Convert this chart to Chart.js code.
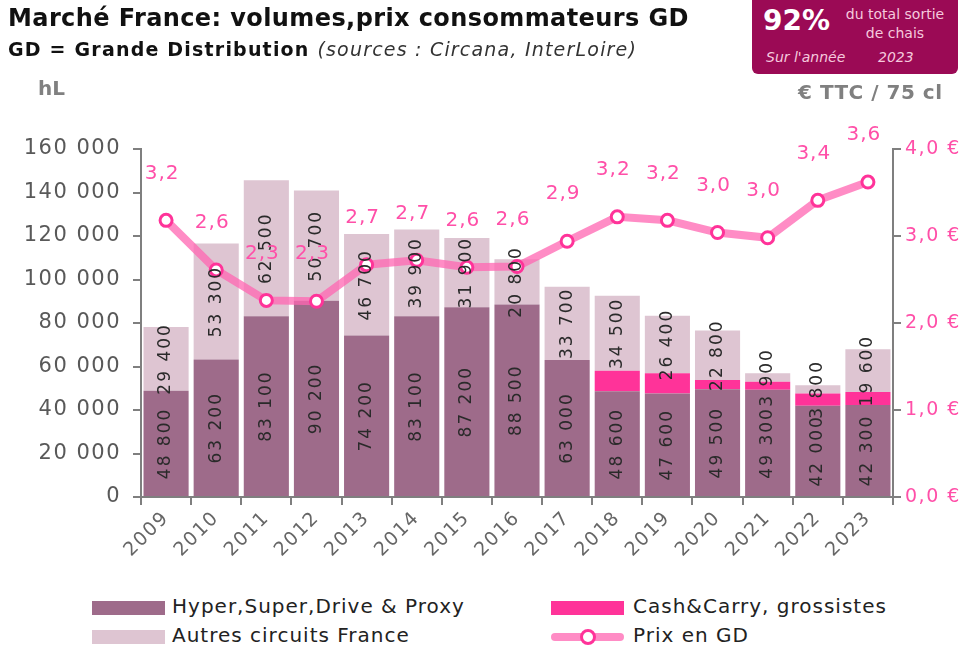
<!DOCTYPE html>
<html>
<head>
<meta charset="utf-8">
<script src="https://cdn.jsdelivr.net/npm/chart.js@4.4.1/dist/chart.umd.min.js"></script>
<style>
  body { margin: 0; background: #fff; font-family: "DejaVu Sans", sans-serif; }
  #page { position: relative; width: 965px; height: 649px; overflow: hidden; }
  #chart { position: absolute; left: 0; top: 0; }
  .t { position: absolute; white-space: nowrap; }
  .lg { position: absolute; font-size: 20px; letter-spacing: 1px; color: #222; white-space: nowrap; }
  .sw { position: absolute; width: 73px; height: 14px; }
</style>
</head>
<body>
<div id="page">
  <canvas id="chart" width="965" height="580"></canvas>

  <div class="t" style="left:8px;top:4px;font-size:24px;letter-spacing:0.4px;font-weight:bold;color:#111;">Marché France: volumes,prix consommateurs GD</div>
  <div class="t" style="left:8px;top:38px;font-size:19px;letter-spacing:1.2px;font-weight:bold;color:#111;">GD = Grande Distribution <span style="font-weight:normal;font-style:italic;color:#333;">(sources : Circana, InterLoire)</span></div>
  <div class="t" style="left:38px;top:76px;font-size:20px;font-weight:bold;color:#808080;">hL</div>
  <div class="t" style="left:798px;top:80px;font-size:20px;letter-spacing:0.5px;font-weight:bold;color:#808080;">€ TTC / 75 cl</div>

  <div style="position:absolute;left:752px;top:-6px;width:206px;height:80px;background:#9B0A55;border-radius:6px;"></div>
  <div class="t" style="left:763px;top:4px;font-size:28px;font-weight:bold;color:#fff;">92%</div>
  <div class="t" style="left:838px;top:5px;width:114px;text-align:center;font-size:14px;line-height:19px;color:#F5C9DD;">du total sortie<br>de chais</div>
  <div class="t" style="left:766px;top:49px;font-size:14px;font-style:italic;color:#F5C9DD;">Sur l'année</div>
  <div class="t" style="left:878px;top:49px;font-size:14px;font-style:italic;color:#F5C9DD;">2023</div>

  <div class="sw" style="left:92px;top:601px;background:#9E6B8A;"></div>
  <div class="lg" style="left:172px;top:594px;">Hyper,Super,Drive &amp; Proxy</div>
  <div class="sw" style="left:551px;top:601px;background:#FF3399;"></div>
  <div class="lg" style="left:633px;top:594px;">Cash&amp;Carry, grossistes</div>
  <div class="sw" style="left:92px;top:630px;background:#DEC5D2;"></div>
  <div class="lg" style="left:172px;top:623px;">Autres circuits France</div>
  <div style="position:absolute;left:551px;top:633px;width:73px;height:8px;border-radius:4px;background:rgba(255,102,178,0.75);"></div>
  <div style="position:absolute;left:580px;top:629px;width:10px;height:10px;border-radius:50%;background:#fff;border:3px solid #FF3399;"></div>
  <div class="lg" style="left:633px;top:623px;">Prix en GD</div>
</div>
<script>
var years = ['2009','2010','2011','2012','2013','2014','2015','2016','2017','2018','2019','2020','2021','2022','2023'];
var hyper = [48800, 63200, 83100, 90200, 74200, 83100, 87200, 88500, 63000, 48600, 47600, 49500, 49300, 42000, 42300];
var cash = [0, 0, 0, 0, 0, 0, 0, 0, 0, 9400, 9300, 4300, 3700, 5600, 6000];
var autres = [29400, 53300, 62500, 50700, 46700, 39900, 31900, 20800, 33700, 34500, 26400, 22800, 3900, 3800, 19600];
var prix = [3.18, 2.61, 2.26, 2.25, 2.67, 2.72, 2.64, 2.65, 2.94, 3.22, 3.18, 3.04, 2.98, 3.41, 3.62];

var FONT = '"DejaVu Sans", sans-serif';

function fmt(v) {
  return String(v).replace(/\B(?=(\d{3})+(?!\d))/g, ' ');
}

// wider letter spacing for all canvas text
var spacingPlugin = {
  id: 'spacing',
  beforeDraw: function(chart) { chart.ctx.letterSpacing = '1.5px'; },
  afterDraw: function(chart) { chart.ctx.letterSpacing = '0px'; }
};

// labels on bars and above price points
var labelPlugin = {
  id: 'labels',
  afterDatasetsDraw: function(chart) {
    var ctx = chart.ctx;
    [0, 2].forEach(function(di) {
      var meta = chart.getDatasetMeta(di);
      var data = chart.data.datasets[di].data;
      meta.data.forEach(function(bar, i) {
        if (!data[i]) return;
        var cy = (bar.y + bar.base) / 2;
        ctx.save();
        ctx.translate(bar.x, cy);
        ctx.rotate(-Math.PI / 2);
        ctx.font = '17px ' + FONT;
        ctx.letterSpacing = '2px';
        ctx.fillStyle = '#2a2a2a';
        ctx.textAlign = 'center';
        ctx.textBaseline = 'middle';
        ctx.fillText(fmt(data[i]), 0, 0);
        ctx.restore();
      });
    });
    var lm = chart.getDatasetMeta(3);
    lm.data.forEach(function(pt, i) {
      ctx.save();
      ctx.font = '20px ' + FONT;
      ctx.letterSpacing = '1px';
      ctx.fillStyle = '#FF4FA8';
      ctx.textAlign = 'center';
      ctx.textBaseline = 'middle';
      ctx.fillText(prix[i].toFixed(1).replace('.', ','), pt.x - 4, pt.y - 47);
      ctx.restore();
    });
  }
};

new Chart(document.getElementById('chart'), {
  type: 'bar',
  data: {
    labels: years,
    datasets: [
      { label: 'Hyper,Super,Drive & Proxy', data: hyper, backgroundColor: '#9E6B8A', stack: 's', order: 1 },
      { label: 'Cash&Carry, grossistes', data: cash, backgroundColor: '#FF3399', stack: 's', order: 1 },
      { label: 'Autres circuits France', data: autres, backgroundColor: '#DEC5D2', stack: 's', order: 1 },
      { label: 'Prix en GD', type: 'line', data: prix, yAxisID: 'y1', order: 0,
        borderColor: 'rgba(255,102,178,0.75)', borderWidth: 8,
        pointRadius: 6, pointBorderWidth: 3, pointBorderColor: '#FF3399',
        pointBackgroundColor: '#fff', tension: 0 }
    ]
  },
  options: {
    responsive: false,
    animation: false,
    layout: { padding: { top: 149, left: 0, right: 0, bottom: 0 } },
    datasets: { bar: { categoryPercentage: 1, barPercentage: 0.9 } },
    plugins: { legend: { display: false }, tooltip: { enabled: false } },
    scales: {
      x: {
        stacked: true,
        afterFit: function(s) { s.height = 83; },
        grid: { drawOnChartArea: false, tickLength: 8, color: '#7f7f7f', lineWidth: 2 },
        border: { color: '#7f7f7f', width: 2 },
        ticks: { minRotation: 45, maxRotation: 45, color: '#666', font: { family: FONT, size: 19 }, padding: 2 }
      },
      y: {
        stacked: true,
        min: 0, max: 160000,
        afterFit: function(s) { s.width = 141; },
        grid: { drawOnChartArea: false, tickLength: 8, color: '#7f7f7f', lineWidth: 2 },
        border: { color: '#7f7f7f', width: 2 },
        ticks: { stepSize: 20000, color: '#595959', font: { family: FONT, size: 21 }, padding: 12,
          callback: function(v) { return fmt(v); } }
      },
      y1: {
        position: 'right',
        min: 0, max: 4,
        afterFit: function(s) { s.width = 72; },
        grid: { drawOnChartArea: false, tickLength: 8, color: '#7f7f7f', lineWidth: 2 },
        border: { color: '#7f7f7f', width: 2 },
        ticks: { stepSize: 1, color: '#FF4FA8', font: { family: FONT, size: 19 }, padding: 4,
          callback: function(v) { return v.toFixed(1).replace('.', ',') + ' €'; } }
      }
    }
  },
  plugins: [spacingPlugin, labelPlugin]
});
</script>
</body>
</html>
